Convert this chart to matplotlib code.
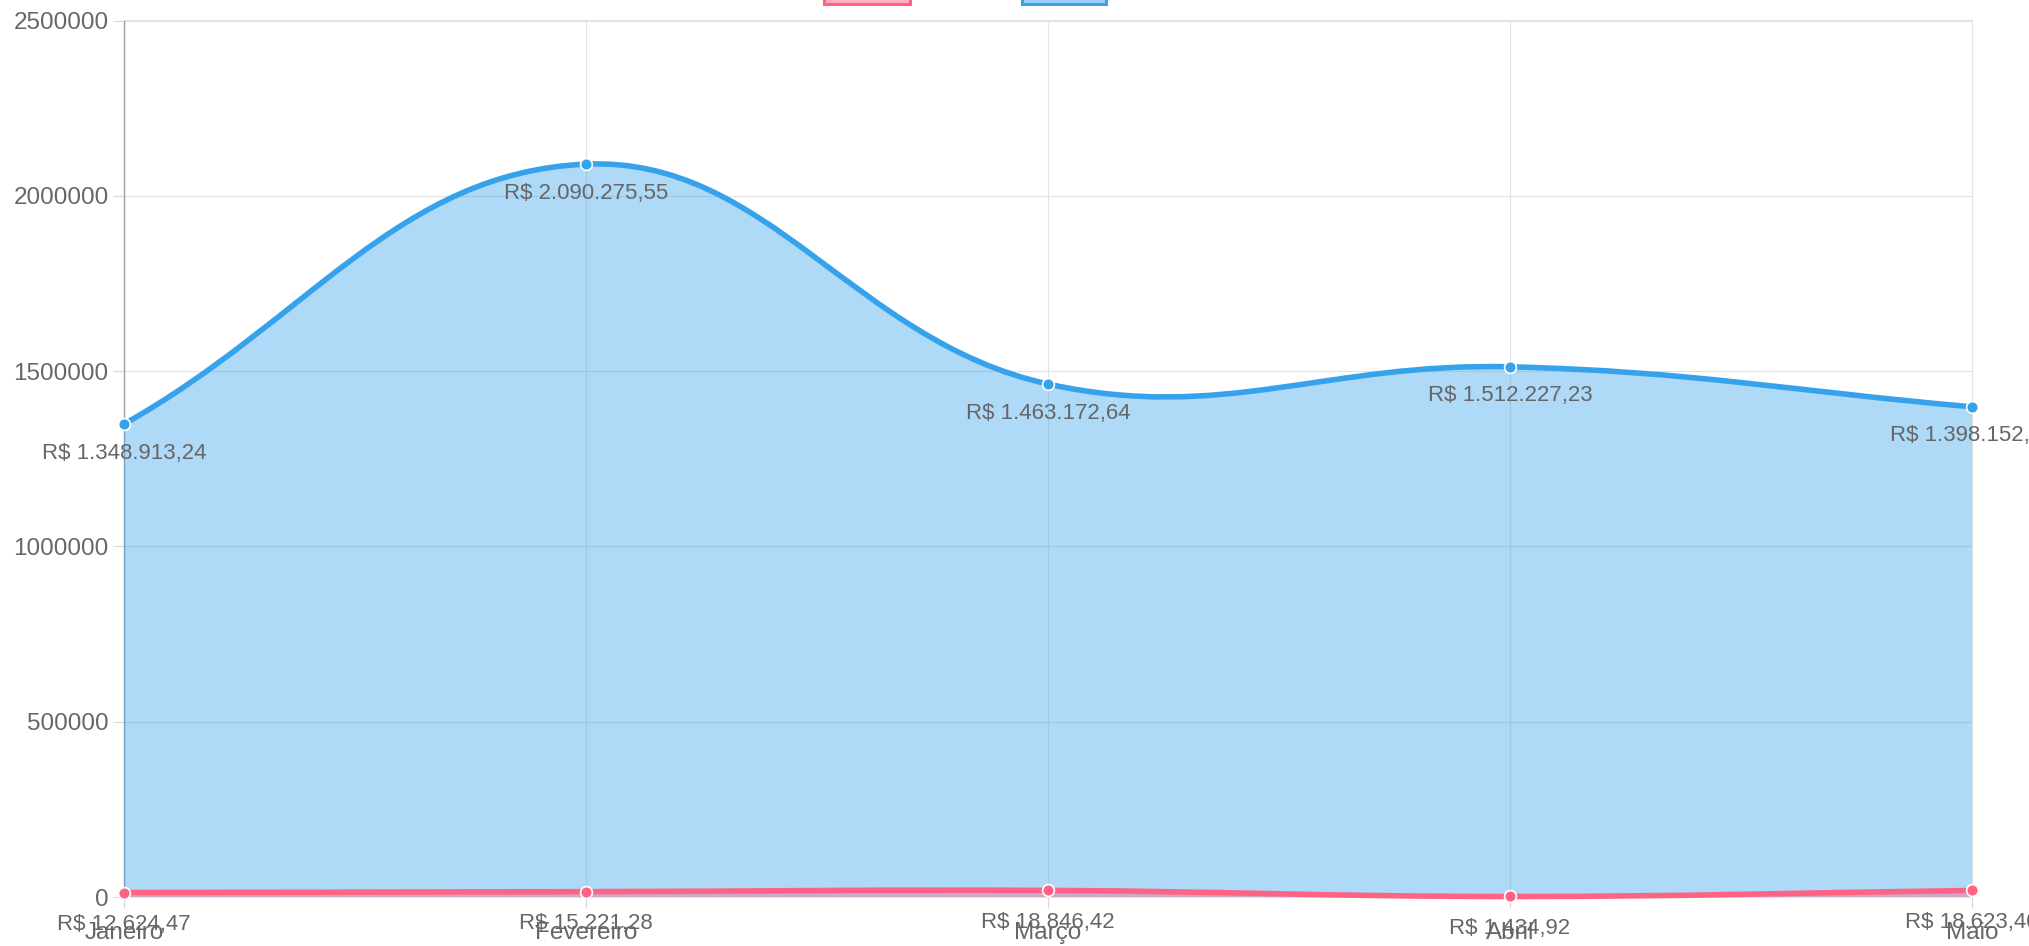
import numpy as np
import matplotlib
matplotlib.use("Agg")
import matplotlib.pyplot as plt
from matplotlib.path import Path
from matplotlib.patches import PathPatch, Rectangle

# ---- data ----
months = ["Janeiro", "Fevereiro", "Março", "Abril", "Maio"]
despesas = [12624.47, 15221.28, 18846.42, 1434.92, 18623.40]
receitas = [1348913.24, 2090275.55, 1463172.64, 1512227.23, 1398152.10]
y_ticks = [0, 500000, 1000000, 1500000, 2000000, 2500000]

PINK = "#FF6384"
BLUE = "#36A2EB"
TXT = "#666666"

plt.rcParams["font.family"] = ["Liberation Sans", "DejaVu Sans"]

W, H, DPI = 2029, 946, 100
fig = plt.figure(figsize=(W / DPI, H / DPI), dpi=DPI)
left, right, top, bottom = 124, 1972, 20.5, 897
ax = fig.add_axes([left / W, (H - bottom) / H, (right - left) / W, (bottom - top) / H])
x = np.arange(len(months))
ax.set_xlim(0, len(months) - 1)
ax.set_ylim(0, 2500000)


def fmt_brl(v):
    s = f"{v:,.2f}"
    s = s.replace(",", "X").replace(".", ",").replace("X", ".")
    return "R$ " + s


def spline_path(xs, ys, t=0.4):
    pts = ax.transData.transform(np.column_stack([xs, ys]))
    n = len(pts)
    cprev = np.zeros_like(pts)
    cnext = np.zeros_like(pts)
    for i in range(n):
        p0 = pts[max(i - 1, 0)]
        p1 = pts[i]
        p2 = pts[min(i + 1, n - 1)]
        d01 = np.hypot(*(p1 - p0))
        d12 = np.hypot(*(p2 - p1))
        tot = d01 + d12
        s01 = d01 / tot if tot else 0
        s12 = d12 / tot if tot else 0
        cprev[i] = p1 - t * s01 * (p2 - p0)
        cnext[i] = p1 + t * s12 * (p2 - p0)
    verts = [pts[0]]
    codes = [Path.MOVETO]
    for i in range(1, n):
        verts += [cnext[i - 1], cprev[i], pts[i]]
        codes += [Path.CURVE4] * 3
    inv = ax.transData.inverted()
    verts = inv.transform(np.array(verts))
    return verts, codes


def draw_series(vals, color, fill_rgba, z, dy):
    verts, codes = spline_path(x, vals)
    fverts = np.vstack([verts, [[x[-1], 0], [x[0], 0], [x[0], 0]]])
    fcodes = codes + [Path.LINETO, Path.LINETO, Path.CLOSEPOLY]
    ax.add_patch(PathPatch(Path(fverts, fcodes), facecolor=fill_rgba,
                           edgecolor="none", zorder=z))
    ax.add_patch(PathPatch(Path(verts, codes), facecolor="none", edgecolor=color,
                           lw=4.0, zorder=z + 0.5, clip_on=False, capstyle="round"))
    ax.plot(x, vals, "o", ms=8.5, mfc=color, mec="white", mew=1.2,
            zorder=z + 0.6, clip_on=False)
    for xi, v in zip(x, vals):
        ax.annotate(fmt_brl(v), (xi, v), xytext=(0, dy), textcoords="offset pixels",
                    ha="center", va="center", fontsize=16, color=TXT,
                    zorder=z + 0.7, annotation_clip=False)


draw_series(receitas, BLUE, (54 / 255, 162 / 255, 235 / 255, 0.4), 3, -29)
draw_series(despesas, PINK, (255 / 255, 99 / 255, 132 / 255, 0.4), 5, -32)

# axes styling
ax.set_yticks(y_ticks)
ax.set_yticklabels([str(v) for v in y_ticks])
ax.set_xticks(x)
ax.set_xticklabels(months)
ax.grid(True, color="#E3E3E3", lw=0.8, zorder=0)
ax.set_axisbelow(True)
ax.tick_params(axis="both", colors="#D8D8D8", labelcolor=TXT, labelsize=17.5,
               length=8, width=0.8)
ax.tick_params(axis="y", pad=3)
ax.tick_params(axis="x", pad=10)
for s in ["top", "right", "bottom"]:
    ax.spines[s].set_color("#E3E3E3")
    ax.spines[s].set_linewidth(0.8)
ax.spines["left"].set_color("#A0A0A0")
ax.spines["left"].set_linewidth(1.0)

# partially visible legend boxes at the very top
for (x0, x1), col, fc in [((824, 910), PINK, (1, 0.39, 0.52, 0.5)),
                          ((1022, 1106), BLUE, (0.21, 0.64, 0.92, 0.5))]:
    fig.patches.append(Rectangle((x0 / W, 1 - 4 / H), (x1 - x0) / W, 20 / H,
                                 transform=fig.transFigure, facecolor=fc,
                                 edgecolor=col, lw=2.2))

fig.savefig("out.png", dpi=DPI)
